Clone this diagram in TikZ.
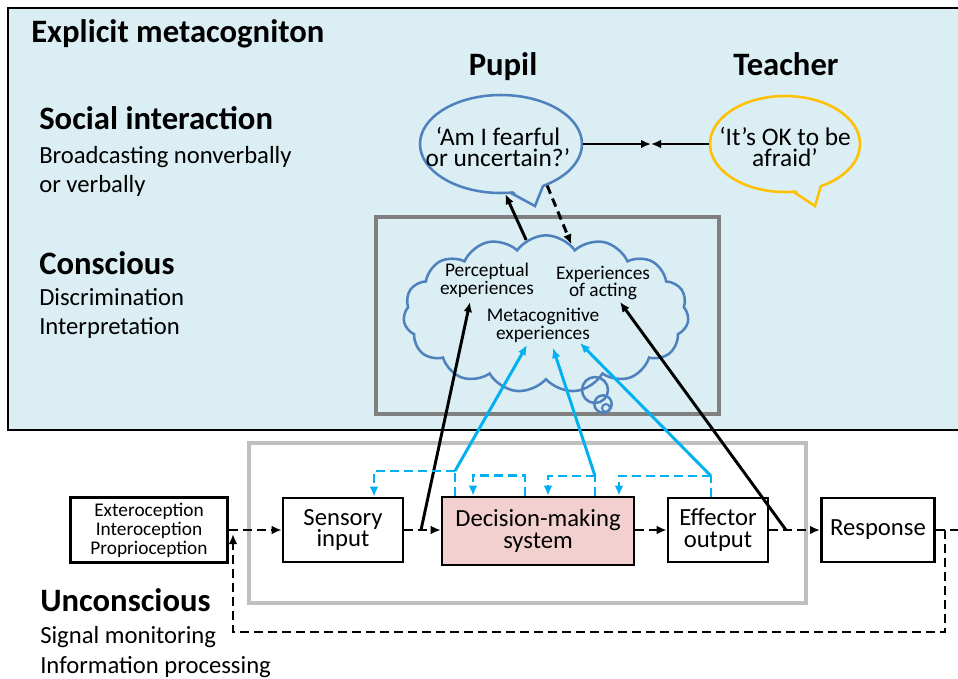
\documentclass[tikz,border=0pt]{standalone}
\usepackage{fontspec}
\setmainfont{Carlito}
\usetikzlibrary{arrows.meta,shapes,positioning,calc}

\definecolor{panel}{HTML}{DAEEF3}
\definecolor{pupilblue}{HTML}{4F81BD}
\definecolor{teachgold}{HTML}{FFC000}
\definecolor{signalcyan}{HTML}{00B0F0}
\definecolor{decpink}{HTML}{F2D0D0}
\definecolor{consgray}{HTML}{808080}
\definecolor{unconsgray}{HTML}{BFBFBF}

\begin{document}
\begin{tikzpicture}[x=0.75pt,y=-0.75pt,>={Latex[length=7.5pt,width=6.5pt]}]
    \tikzstyle{head}=[anchor=base west,inner sep=0pt,font=\fontsize{24.5}{28}\selectfont\bfseries]
    \tikzstyle{note}=[anchor=base west,inner sep=0pt,font=\fontsize{18.5}{22}\selectfont]
    \tikzstyle{box}=[rectangle,draw,line width=1.9pt,fill=white,align=center,inner sep=0pt,font=\fontsize{18.5}{16}\selectfont]
    \tikzstyle{bubble}=[ellipse,line width=1.9pt,inner sep=0pt]
    \tikzstyle{saying}=[align=center,inner sep=0pt,font=\fontsize{19}{16}\selectfont]
    \tikzstyle{exper}=[align=center,inner sep=0pt,font=\fontsize{14.5}{11.5}\selectfont]

    \tikzstyle{sig}=[line width=2.2pt,dash pattern=on 6.5pt off 4pt,->]              % signal flow
    \tikzstyle{act}=[line width=2.2pt,->]                                            % to awareness
    \tikzstyle{cfb}=[signalcyan,line width=2.2pt,dash pattern=on 6.5pt off 4pt]      % feedback
    \tikzstyle{cup}=[signalcyan,line width=2.2pt,->]                                 % to metacognition

    \clip (0,0) rectangle (958,679);

    % explicit panel
    \draw[fill=panel,line width=0.8pt] (8,8) rectangle (975,430);
    \draw[consgray,line width=3.4pt] (376,217) rectangle (719,414);
    \draw[unconsgray,line width=3pt] (249,443) rectangle (806,603);

    % left labels
    \node[head] (title) at (31,42) {Explicit metacogniton};
    \node[head] (social) at (39,129) {Social interaction};
    \node[note] (socA) at (39,163) {Broadcasting nonverbally};
    \node[note] (socB) at (39,192) {or verbally};
    \node[head] (cons) at (39,274) {Conscious};
    \node[note] (consA) at (39,305) {Discrimination};
    \node[note] (consB) at (39,334) {Interpretation};
    \node[head] (uncons) at (40,611) {Unconscious};
    \node[note] (unconsA) at (40,643) {Signal monitoring};
    \node[note] (unconsB) at (40,673) {Information processing};

    % pupil and teacher
    \node[head,anchor=base] (pupilhd) at (503,75) {Pupil};
    \node[head,anchor=base] (teachhd) at (786,75) {Teacher};

    \node[bubble,draw=pupilblue,minimum width=121.5pt,minimum height=73.5pt] (pupil) at (501,144) {};
    \fill[panel] (510,189) -- (535,206) -- (543,183) -- cycle;
    \draw[pupilblue,line width=1.9pt,line join=miter] (510,192.5) -- (535,206) -- (543,186);
    \node[saying] (pupiltxt) at (498,147) {‘Am I fearful\\or uncertain?’};

    \node[bubble,draw=teachgold,minimum width=112.5pt,minimum height=72pt] (teacher) at (785,144) {};
    \fill[panel] (793,188) -- (815,206) -- (821,182) -- cycle;
    \draw[teachgold,line width=1.9pt,line join=miter] (793,191.5) -- (815,206) -- (821,185.5);
    \node[saying] (teachtxt) at (785,147) {‘It’s OK to be\\afraid’};

    % awareness cloud
    \node[cloud,cloud puffs=15,cloud puff arc=110,aspect=1.8,draw=pupilblue,line width=1.9pt,minimum width=214pt,minimum height=118pt] (cloud) at (546,314) {};
    \draw[pupilblue,line width=1.9pt] (595,390) circle[radius=9.75pt];
    \draw[pupilblue,line width=1.9pt] (603,404) circle[radius=6.5pt];
    \draw[pupilblue,line width=1.5pt] (606,408) circle[radius=3pt];

    \node[exper] (perc) at (487,280) {Perceptual\\experiences};
    \node[exper] (acting) at (603,283) {Experiences\\of acting};
    \node[exper] (meta) at (543,325) {Metacognitive\\experiences};

    \coordinate (percin) at (470,302);
    \coordinate (actin) at (620,302);
    \coordinate (metain1) at (527,345);
    \coordinate (metain2) at (553,348);
    \coordinate (metain3) at (580,343);

    % processing chain
    \node[box,minimum width=118pt,minimum height=49pt,font=\fontsize{14.5}{14.25}\selectfont] (ext) at (149,530) {Exteroception\\Interoception\\Proprioception};
    \node[box,minimum width=90pt,minimum height=48pt] (sens) at (343,530) {Sensory\\input};
    \node[box,fill=decpink,minimum width=144pt,minimum height=51pt] (dec) at (538,531) {Decision-making\\system};
    \node[box,minimum width=75pt,minimum height=48pt] (eff) at (718,530) {Effector\\output};
    \node[box,minimum width=85pt,minimum height=48pt] (resp) at (878,530) {Response};

    \coordinate (j1) at (421,530);
    \coordinate (j2) at (786,530);
    \coordinate (j3) at (945,530);
    \coordinate (j0) at (233,530);
    \coordinate (out) at (970,530);

    \draw[sig] (ext.east |- j0) -- (sens.west |- j0);
    \draw[sig] (sens.east |- j1) -- (dec.west |- j1);
    \draw[sig] (dec.east |- j1) -- (eff.west |- j1);
    \draw[sig] (eff.east |- j2) -- (resp.west |- j2);
    \draw[sig,-] (resp.east |- j3) -- (out);
    \draw[sig] (j3) -- ++(0,102) -| ($(j0)+(0,4)$);

    % up to awareness
    \draw[act] (j1) -- (percin);
    \draw[act] (j2) -- (actin);
    \draw[act] (cloud.105) -- (pupil.-85);
    \draw[sig] (pupil.-42) -- (cloud.70);

    \coordinate (talk) at (651,144);
    \draw[act] (pupil) -- (talk);
    \draw[act] (teacher) -- (talk);

    % metacognitive monitoring
    \coordinate (m1) at (455,471);
    \coordinate (m2) at (595,476);
    \coordinate (m3) at (711,476);

    \draw[cfb] ($(dec.north)+(-83,0)$) -- (m1);
    \draw[cfb,->] (m1) -| ($(sens.north)+(31,0)$);
    \draw[cup] (m1) -- (metain1);

    \draw[cfb,->] ($(dec.north)+(-13,0)$) -- ++(0,-20) -| ($(dec.north)+(-65,0)$);

    \draw[cfb] ($(dec.north)+(57,0)$) -- (m2);
    \draw[cfb,->] (m2) -| ($(dec.north)+(10,0)$);
    \draw[cup] (m2) -- (metain2);

    \draw[cfb] ($(eff.north)+(-7,0)$) -- (m3);
    \draw[cfb,->] (m3) -| ($(dec.north)+(81,0)$);
    \draw[cup] (m3) -- (metain3);
\end{tikzpicture}
\end{document}
